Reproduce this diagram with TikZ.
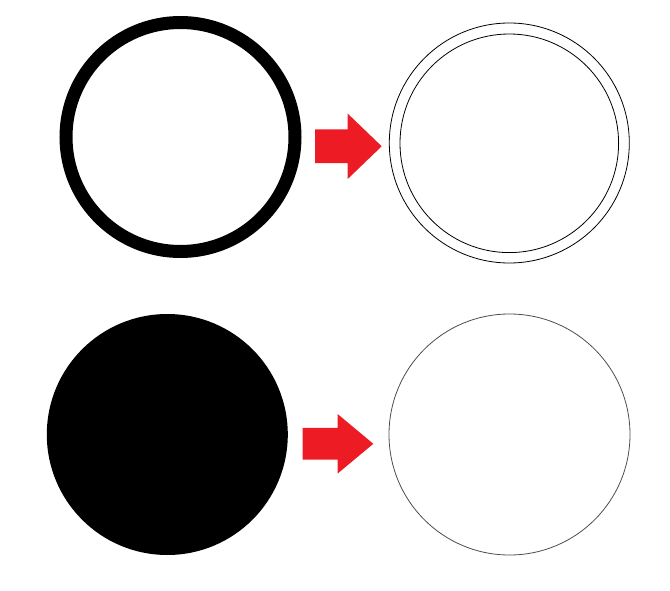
\documentclass[tikz,border=0pt]{standalone}
\usepackage{tikz}
\usetikzlibrary{positioning}
\definecolor{arrowRed}{HTML}{ED1C24}
\definecolor{lineGrey}{HTML}{4D4D4D}
\tikzset{
  thickring/.style  = {circle, draw=black, line width=13pt, minimum size=229pt, inner sep=0pt},
  thinring/.style   = {circle, draw=#1, line width=0.8pt, inner sep=0pt},
  fullfill/.style   = {circle, fill=black, minimum size=241pt, inner sep=0pt},
  blockarrow/.style = {fill=arrowRed, draw=none},
}
\begin{document}
\begin{tikzpicture}[x=1pt,y=-1pt]
  \useasboundingbox (0,0) rectangle (670,591);
  % top row
  \node[thickring] (ringA) at (180.5,137) {};
  \node[thinring=black, minimum size=240pt] (ringB) at (509.3,143) {};
  \node[thinring=black, minimum size=218.6pt] (ringBin) at (509.3,143.3) {};
  % bottom row
  \node[fullfill] (discA) at (167.3,434.5) {};
  \node[thinring=lineGrey, minimum size=241pt] (ringC) at (509.5,434.5) {};
  % red arrows: left x / mid y / length / head length / shaft half / head half
  \foreach \x/\y/\len/\hl/\sw/\hw in {315/146.3/66.7/34/16.8/32.7, 302.7/443.8/70.6/35.6/15.9/29.7} {
    \fill[blockarrow] (\x,\y-\sw) -- ++(\len-\hl,0) -- (\x+\len-\hl,\y-\hw)
      -- (\x+\len,\y) -- (\x+\len-\hl,\y+\hw) -- (\x+\len-\hl,\y+\sw) -- (\x,\y+\sw) -- cycle;
  }
\end{tikzpicture}
\end{document}
